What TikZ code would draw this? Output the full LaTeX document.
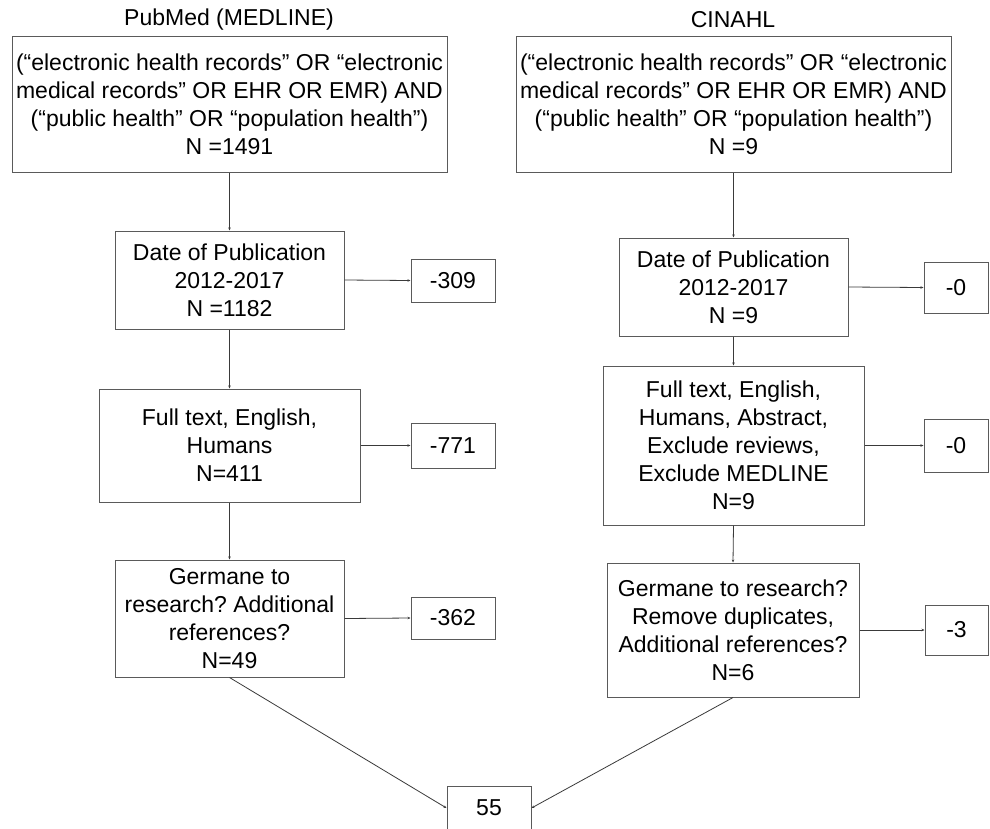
\documentclass[tikz,border=0pt]{standalone}
\usepackage{fontspec}
\setmainfont{Liberation Sans}
\usetikzlibrary{arrows.meta}
\definecolor{boxgray}{HTML}{5A5A5A}
\definecolor{linegray}{HTML}{3A3A3A}
\frenchspacing
\begin{document}
\begin{tikzpicture}[x=1pt,y=-1pt,
  fbox/.style={draw=boxgray, line width=1pt, align=center, inner sep=0pt,
    font=\fontsize{23}{28}\selectfont, text=black},
  title/.style={font=\fontsize{23}{28}\selectfont, inner sep=0pt},
  conn/.style={draw=linegray, line width=0.8pt, -{Stealth[length=3pt,width=2.5pt]}}]
\useasboundingbox (0,0) rectangle (990,828);
\fill[white] (0,0) rectangle (990,828);
% titles
\node[title] (tl) at (229,20) {PubMed (MEDLINE)};
\node[title] (tr) at (733,20) {CINAHL};
% left column
\node[fbox, minimum width=435, minimum height=136] (L1) at (229.5,104)
  {(“electronic health records” OR “electronic\\medical records” OR EHR OR EMR) AND\\(“public health” OR “population health”)\\N =1491};
\node[fbox, minimum width=229, minimum height=98] (L2) at (229.5,280)
  {Date of Publication\\2012-2017\\N =1182};
\node[fbox, minimum width=84, minimum height=43] (L2x) at (453,280.5) {-309};
\node[fbox, minimum width=261, minimum height=113] (L3) at (229.5,445.5)
  {Full text, English,\\Humans\\N=411};
\node[fbox, minimum width=84, minimum height=45] (L3x) at (453,445.5) {-771};
\node[fbox, minimum width=229, minimum height=117] (L4) at (229.5,618.5)
  {Germane to\\research? Additional\\references?\\N=49};
\node[fbox, minimum width=84, minimum height=42] (L4x) at (453,618) {-362};
% right column
\node[fbox, minimum width=435, minimum height=136] (R1) at (733.5,104)
  {(“electronic health records” OR “electronic\\medical records” OR EHR OR EMR) AND\\(“public health” OR “population health”)\\N =9};
\node[fbox, minimum width=229, minimum height=98] (R2) at (733.5,287)
  {Date of Publication\\2012-2017\\N =9};
\node[fbox, minimum width=64, minimum height=51] (R2x) at (956,287.5) {-0};
\node[fbox, minimum width=261, minimum height=159] (R3) at (733.5,445.5)
  {Full text, English,\\Humans, Abstract,\\Exclude reviews,\\Exclude MEDLINE\\N=9};
\node[fbox, minimum width=64, minimum height=53] (R3x) at (956,445.5) {-0};
\node[fbox, minimum width=252, minimum height=134] (R4) at (733,630)
  {Germane to research?\\Remove duplicates,\\Additional references?\\N=6};
\node[fbox, minimum width=63, minimum height=50] (R4x) at (956.5,630) {-3};
% result
\node[fbox, minimum width=84, minimum height=44] (F) at (489,808) {55};
% connectors
\draw[conn] (L1.south) -- (L2.north);
\draw[conn] (L2.south) -- (L3.north);
\draw[conn] (L3.south) -- (L4.north);
\draw[conn] (L2.east) -- (L2x.west);
\draw[conn] (L3.east) -- (L3x.west);
\draw[conn] (L4.east) -- (L4x.west);
\draw[conn] (R1.south) -- (R2.north);
\draw[conn] (R2.south) -- (R3.north);
\draw[conn] (R3.south) -- (R4.north);
\draw[conn] (R2.east) -- (R2x.west);
\draw[conn] (R3.east) -- (R3x.west);
\draw[conn] (R4.east) -- (R4x.west);
\draw[conn] (L4.south) -- (F.west);
\draw[conn] (R4.south) -- (F.east);
\end{tikzpicture}
\end{document}
